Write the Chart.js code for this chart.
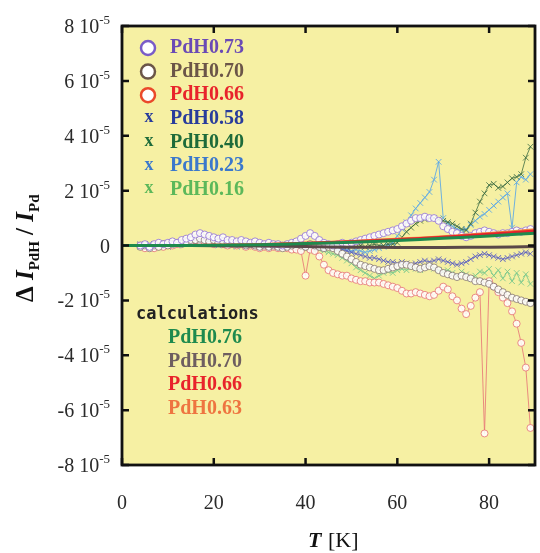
<!DOCTYPE html>
<html>
<head>
<meta charset="utf-8">
<script src="https://cdn.jsdelivr.net/npm/chart.js@4.4.1/dist/chart.umd.min.js"></script>
<style>
  html, body { margin: 0; padding: 0; background: #fff; }
</style>
</head>
<body>
<canvas id="chart" width="540" height="553"></canvas>
<script>
// Temperature grid of the measured curves [K]
const tempK = [4, 5, 6, 7, 8, 9, 10, 11, 12, 13, 14, 15, 16, 17, 18, 19, 20, 21, 22, 23,
  24, 25, 26, 27, 28, 29, 30, 31, 32, 33, 34, 35, 36, 37, 38, 39, 40, 41, 42, 43, 44, 45,
  46, 47, 48, 49, 50, 51, 52, 53, 54, 55, 56, 57, 58, 59, 60, 61, 62, 63, 64, 65, 66, 67,
  68, 69, 70, 71, 72, 73, 74, 75, 76, 77, 78, 79, 80, 81, 82, 83, 84, 85, 86, 87, 88, 89];

// Measured dI/I, in units of 1e-5
const pdh073 = [0.0, 0.05, -0.05, 0.05, 0.1, 0.05, 0.1, 0.15, 0.1, 0.2,
  0.25, 0.3, 0.4, 0.45, 0.4, 0.35, 0.3, 0.25, 0.3, 0.2,
  0.2, 0.15, 0.2, 0.15, 0.1, 0.15, 0.1, 0.05, 0.1, 0.05,
  0.05, 0.0, 0.05, 0.1, 0.15, 0.25, 0.35, 0.45, 0.35, 0.2, 0.1, 0.05,
  0.0, 0.05, 0.1, 0.05, 0.1, 0.15, 0.2, 0.25, 0.3, 0.35,
  0.4, 0.45, 0.5, 0.55, 0.6, 0.7, 0.8, 0.9, 1.0, 1.0, 1.05, 1.0,
  1.0, 0.9, 0.7, 0.6, 0.5, 0.45, 0.35, 0.3, 0.35, 0.45, 0.5, 0.55,
  0.5, 0.45, 0.4, 0.45, 0.45, 0.5, 0.55, 0.5, 0.55, 0.6];
const pdh070 = [-0.05, 0.0, -0.1, 0.0, -0.05, 0.05, 0.0, 0.05, 0.1, 0.05,
  0.15, 0.2, 0.2, 0.25, 0.2, 0.15, 0.2, 0.1, 0.15, 0.1,
  0.1, 0.05, 0.1, 0.0, 0.05, 0.0, -0.05, 0.0, -0.05, 0.0,
  -0.05, -0.1, -0.05, 0.0, 0.05, 0.0, -0.05, 0.05, 0.0, -0.05, -0.1, -0.05,
  -0.1, -0.2, -0.3, -0.4, -0.5, -0.6, -0.7, -0.75, -0.8, -0.85,
  -0.9, -0.9, -0.85, -0.8, -0.75, -0.7, -0.7, -0.75, -0.8, -0.85, -0.8, -0.75,
  -0.8, -0.9, -1.0, -1.05, -1.1, -1.15, -1.1, -1.15, -1.2, -1.3, -1.3, -1.35,
  -1.4, -1.5, -1.6, -1.7, -1.8, -1.9, -1.95, -2.0, -2.05, -2.1];
const pdh066 = [0.0, -0.1, -0.05, -0.1, 0.0, -0.05, 0.05, 0.0, 0.05, 0.1,
  0.1, 0.15, 0.2, 0.15, 0.1, 0.1, 0.05, 0.1, 0.05, 0.0,
  0.05, 0.0, 0.05, -0.05, 0.0, -0.05, -0.1, -0.05, -0.1, -0.05,
  -0.1, -0.05, -0.1, -0.15, -0.15, -0.2, -1.1, -0.15, -0.2, -0.4, -0.7, -0.9,
  -1.0, -1.05, -1.1, -1.1, -1.2, -1.25, -1.3, -1.3, -1.35, -1.35,
  -1.35, -1.4, -1.45, -1.5, -1.55, -1.65, -1.75, -1.75, -1.7, -1.75, -1.8, -1.85,
  -1.8, -1.65, -1.5, -1.6, -1.85, -2.0, -2.3, -2.5, -2.2, -1.9, -1.7, -6.85,
  -1.3, -1.5, -1.7, -1.9, -2.1, -2.4, -2.85, -3.55, -4.45, -6.65];
const pdh058 = [0.05, -0.05, 0.0, -0.1, -0.05, 0.0, -0.05, 0.05, 0.0, 0.05,
  0.05, 0.1, 0.05, 0.1, 0.15, 0.1, 0.05, 0.1, 0.05, 0.05,
  0.0, 0.05, 0.0, -0.05, 0.0, 0.05, 0.0, -0.05, 0.0, -0.05,
  0.0, -0.05, -0.1, -0.05, 0.0, -0.05, -0.1, -0.05, -0.1, -0.05, -0.1, -0.05,
  -0.05, -0.1, -0.15, -0.2, -0.25, -0.3, -0.35, -0.4, -0.45, -0.45,
  -0.5, -0.55, -0.6, -0.6, -0.65, -0.6, -0.65, -0.7, -0.65, -0.6, -0.55, -0.6,
  -0.55, -0.5, -0.55, -0.6, -0.65, -0.7, -0.65, -0.6, -0.5, -0.4, -0.35, -0.3,
  -0.35, -0.4, -0.45, -0.5, -0.45, -0.4, -0.35, -0.3, -0.25, -0.3];
const pdh040 = [0.0, 0.05, 0.0, 0.05, 0.0, 0.05, 0.1, 0.05, 0.1, 0.05,
  0.1, 0.15, 0.1, 0.15, 0.1, 0.05, 0.1, 0.05, 0.1, 0.05,
  0.05, 0.0, 0.05, 0.0, 0.05, 0.0, 0.05, 0.0, -0.05, 0.0,
  0.0, 0.05, 0.0, 0.05, 0.0, 0.05, 0.0, -0.05, 0.0, 0.05, 0.0, -0.05,
  0.0, 0.05, 0.0, -0.05, 0.0, 0.05, 0.0, -0.05, 0.0, 0.05,
  0.0, 0.0, 0.05, 0.05, 0.1, 0.3, 0.5, 0.65, 0.8, 0.9, 0.95, 1.0,
  1.0, 0.95, 0.9, 0.85, 0.8, 0.7, 0.6, 0.55, 0.8, 1.2, 1.6, 1.9,
  2.2, 2.25, 2.1, 2.15, 2.3, 2.45, 2.5, 2.6, 3.2, 3.6];
const pdh023 = [-0.05, 0.0, 0.05, 0.0, -0.05, 0.0, 0.05, 0.0, 0.05, 0.1,
  0.05, 0.1, 0.15, 0.1, 0.05, 0.1, 0.05, 0.0, 0.05, 0.0,
  0.0, -0.05, 0.0, 0.05, 0.0, -0.05, 0.0, -0.05, 0.0, 0.05,
  0.0, -0.05, 0.0, 0.05, 0.0, -0.05, 0.0, 0.05, 0.0, -0.05, -0.1, -0.05,
  -0.1, -0.15, -0.1, -0.15, -0.2, -0.15, -0.2, -0.25, -0.2, -0.15,
  -0.1, -0.05, 0.0, 0.1, 0.35, 0.6, 0.85, 1.1, 1.35, 1.55, 1.75, 1.95,
  2.4, 3.05, 1.0, 0.8, 0.7, 0.6, 0.55, 0.6, 0.75, 0.9, 1.05, 1.15,
  1.3, 1.45, 1.6, 1.75, 1.9, 0.65, 2.3, 2.5, 2.4, 2.6];
const pdh016 = [0.0, -0.05, 0.05, 0.0, -0.05, 0.0, 0.05, 0.1, 0.05, 0.1,
  0.15, 0.1, 0.15, 0.2, 0.15, 0.1, 0.15, 0.1, 0.05, 0.1,
  0.05, 0.0, 0.05, 0.0, -0.05, 0.0, -0.05, -0.1, -0.05, -0.1,
  -0.05, -0.1, -0.05, -0.1, -0.15, -0.1, -0.15, -0.1, -0.2, -0.15, -0.2, -0.25,
  -0.3, -0.35, -0.45, -0.55, -0.65, -0.8, -0.9, -1.0, -1.1, -1.2,
  -1.1, -1.0, -0.95, -1.0, -0.9, -0.85, -0.9, -0.8, -0.85, -0.9, -0.8, -0.75,
  -0.85, -0.9, -0.95, -0.9, -1.0, -1.1, -0.95, -1.05, -1.2, -1.1, -0.95, -1.0,
  -0.85, -1.1, -0.9, -1.2, -0.95, -1.3, -1.0, -1.35, -1.05, -1.4];

// Calculated curves
const calcT = [0, 10, 20, 30, 40, 50, 60, 70, 80, 90];
const calc076 = [0, 0.0, 0.01, 0.03, 0.07, 0.12, 0.18, 0.26, 0.35, 0.45];
const calc070 = [0, 0.0, -0.01, -0.02, -0.04, -0.06, -0.07, -0.07, -0.06, -0.04];
const calc066 = [0, 0.0, 0.01, 0.03, 0.08, 0.14, 0.21, 0.3, 0.41, 0.53];
const calc063 = [0, 0.0, 0.01, 0.04, 0.08, 0.15, 0.23, 0.32, 0.44, 0.57];

const measuredLabels = ['PdH0.73', 'PdH0.70', 'PdH0.66', 'PdH0.58', 'PdH0.40', 'PdH0.23', 'PdH0.16'];
const calcLabels = ['PdH0.76', 'PdH0.70', 'PdH0.66', 'PdH0.63'];
const xTickValues = [0, 20, 40, 60, 80];
const yTickValues = [-8, -6, -4, -2, 0, 2, 4, 6, 8];

// styles
const legendText = ['#6a4ab5', '#6b5548', '#e8232b', '#283c9c', '#1e6b3a', '#3b78cc', '#5cb85a'];
const legendMark = ['circle', 'circle', 'circle', 'x', 'x', 'x', 'x'];
const legendMarkColor = ['#7a5cc8', '#6b5548', '#ea4a2a', '#283c9c', '#1e6b3a', '#3b78cc', '#5cb85a'];
const plotColor = ['rgba(150,120,215,0.85)', 'rgba(125,110,105,0.75)', 'rgba(232,120,120,0.85)',
  'rgba(85,90,195,0.8)', 'rgba(50,100,60,0.75)', 'rgba(95,170,228,0.9)', 'rgba(120,200,140,0.85)'];
const calcText = ['#1e8a4e', '#6e5e60', '#e8232b', '#ee7440'];
const calcColor = ['#1e8a4e', '#5a4848', '#e8202a', '#f08040'];

const measured = [pdh073, pdh070, pdh066, pdh058, pdh040, pdh023, pdh016];
const calcs = [calc076, calc070, calc066, calc063];

const datasets = [];
calcs.forEach((vals, i) => {
    datasets.push({
        label: 'calc ' + calcLabels[i],
        data: calcT.map((t, k) => ({ x: t, y: vals[k] })),
        borderColor: calcColor[i],
        borderWidth: 3,
        pointRadius: 0,
        tension: 0.4,
        order: 0
    });
});
measured.forEach((vals, i) => {
    const isCircle = legendMark[i] === 'circle';
    datasets.push({
        label: measuredLabels[i],
        data: tempK.map((t, k) => ({ x: t, y: vals[k] })),
        borderColor: plotColor[i],
        borderWidth: 1,
        pointStyle: isCircle ? 'circle' : 'crossRot',
        pointRadius: isCircle ? 3.5 : 4,
        pointBorderWidth: 1,
        pointBorderColor: plotColor[i],
        pointBackgroundColor: isCircle ? 'rgba(255,255,255,0.85)' : plotColor[i],
        order: 1 + i
    });
});

const frameAndText = {
    id: 'frameAndText',
    beforeDraw(chart) {
        const { ctx, chartArea: a } = chart;
        ctx.save();
        ctx.fillStyle = '#f6f0a3';
        ctx.fillRect(a.left, a.top, a.right - a.left, a.bottom - a.top);
        ctx.restore();
    },
    afterDraw(chart) {
        const { ctx, chartArea: a, scales } = chart;
        ctx.save();
        // inward ticks on all four sides
        ctx.strokeStyle = '#111';
        ctx.lineWidth = 2.5;
        xTickValues.forEach(v => {
            const x = scales.x.getPixelForValue(v);
            ctx.beginPath();
            ctx.moveTo(x, a.bottom); ctx.lineTo(x, a.bottom - 7);
            ctx.moveTo(x, a.top); ctx.lineTo(x, a.top + 7);
            ctx.stroke();
        });
        yTickValues.forEach(v => {
            const y = scales.y.getPixelForValue(v);
            ctx.beginPath();
            ctx.moveTo(a.left, y); ctx.lineTo(a.left + 7, y);
            ctx.moveTo(a.right, y); ctx.lineTo(a.right - 7, y);
            ctx.stroke();
        });
        ctx.lineWidth = 2.8;
        ctx.strokeRect(a.left, a.top, a.right - a.left, a.bottom - a.top);

        // y tick labels "n 10^-5"
        ctx.fillStyle = '#2a2a2a';
        ctx.textBaseline = 'alphabetic';
        yTickValues.forEach(v => {
            const y = scales.y.getPixelForValue(v) + 7;
            if (v === 0) {
                ctx.font = '20px "Liberation Serif"';
                ctx.textAlign = 'right';
                ctx.fillText('0', 110, y);
                return;
            }
            ctx.font = '13px "Liberation Serif"';
            const supW = ctx.measureText('-5').width;
            ctx.textAlign = 'left';
            ctx.fillText('-5', 110 - supW, y - 9);
            ctx.font = '20px "Liberation Serif"';
            ctx.textAlign = 'right';
            ctx.fillText(v + ' 10', 110 - supW, y);
        });

        // y axis title
        ctx.save();
        ctx.translate(33, 302);
        ctx.rotate(-Math.PI / 2);
        ctx.textAlign = 'left';
        let px = 0;
        const piece = (txt, font, dy) => {
            ctx.font = font;
            ctx.fillText(txt, px, dy);
            px += ctx.measureText(txt).width;
        };
        ctx.fillStyle = '#111';
        piece('\u0394 ', 'bold 25px "Liberation Serif"', 0);
        piece('I', 'bold italic 25px "Liberation Serif"', 0);
        piece('PdH', 'bold 15px "Liberation Serif"', 6);
        piece(' / ', 'bold 25px "Liberation Serif"', 0);
        piece('I', 'bold italic 25px "Liberation Serif"', 0);
        piece('Pd', 'bold 15px "Liberation Serif"', 6);
        ctx.restore();

        // x axis title
        ctx.fillStyle = '#111';
        ctx.textAlign = 'left';
        ctx.font = 'bold italic 22px "Liberation Serif"';
        ctx.fillText('T', 308, 547);
        ctx.font = '22px "Liberation Serif"';
        ctx.fillText('[K]', 328, 547);

        // legend of measured series
        ctx.textBaseline = 'middle';
        measuredLabels.forEach((lab, i) => {
            const y = 48 + i * 23.6;
            if (legendMark[i] === 'circle') {
                ctx.beginPath();
                ctx.arc(148, y, 7, 0, Math.PI * 2);
                ctx.fillStyle = '#fff';
                ctx.fill();
                ctx.lineWidth = 2.5;
                ctx.strokeStyle = legendMarkColor[i];
                ctx.stroke();
            } else {
                ctx.font = 'bold 18px "Liberation Serif"';
                ctx.fillStyle = legendMarkColor[i];
                ctx.textAlign = 'center';
                ctx.fillText('x', 149, y - 1);
            }
            ctx.font = 'bold 20px "Liberation Serif"';
            ctx.fillStyle = legendText[i];
            ctx.textAlign = 'left';
            ctx.fillText(lab, 170, y);
        });

        // legend of calculations
        ctx.font = 'bold 17px "DejaVu Sans Mono"';
        ctx.fillStyle = '#222';
        ctx.fillText('calculations', 136, 315);
        calcLabels.forEach((lab, i) => {
            ctx.font = 'bold 20px "Liberation Serif"';
            ctx.fillStyle = calcText[i];
            ctx.fillText(lab, 168, 338 + i * 23.6);
        });
        ctx.restore();
    }
};

new Chart(document.getElementById('chart').getContext('2d'), {
    type: 'line',
    data: { datasets: datasets },
    options: {
        responsive: false,
        animation: false,
        layout: { padding: { top: 26, right: 1, left: 0, bottom: 0 } },
        plugins: { legend: { display: false }, tooltip: { enabled: false } },
        scales: {
            x: {
                type: 'linear',
                min: 0,
                max: 90,
                afterBuildTicks: (scale) => { scale.ticks = xTickValues.map(v => ({ value: v })); },
                afterFit: (scale) => { scale.height = 88; },
                grid: { display: false },
                border: { display: false },
                ticks: {
                    color: '#2a2a2a',
                    padding: 19,
                    maxRotation: 0,
                    font: { family: 'Liberation Serif', size: 20 }
                }
            },
            y: {
                type: 'linear',
                min: -8,
                max: 8,
                afterFit: (scale) => { scale.width = 122; },
                grid: { display: false },
                border: { display: false },
                ticks: { display: false }
            }
        }
    },
    plugins: [frameAndText]
});
</script>
</body>
</html>
